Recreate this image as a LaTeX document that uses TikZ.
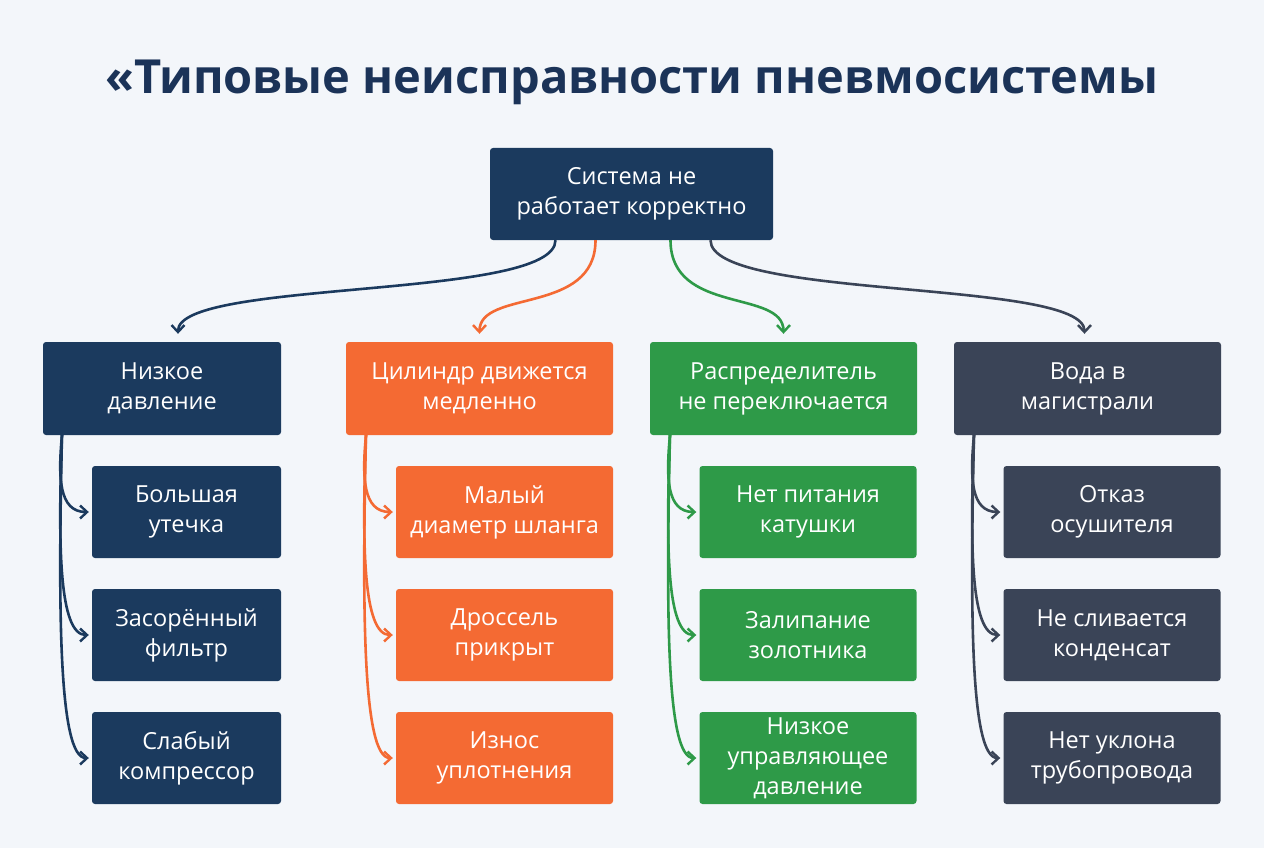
\documentclass[tikz,border=0pt]{standalone}
\usepackage{fontspec}
\setmainfont{Open Sans}
\usetikzlibrary{arrows.meta}
\definecolor{bg}{HTML}{F3F6FA}
\definecolor{navy}{HTML}{1B3A5E}
\definecolor{orng}{HTML}{F46A33}
\definecolor{grn}{HTML}{2E9A48}
\definecolor{slate}{HTML}{3A4457}
\definecolor{ttl}{HTML}{1B3358}
\begin{document}
\begin{tikzpicture}[x=1pt,y=-1pt,
 box/.style={rounded corners=3pt,text=white,align=center,font=\fontsize{23.5}{30}\selectfont,inner sep=0pt},
 ar/.style={line width=2.6pt,-{Straight Barb[length=7pt,width=13pt,line width=2.4pt]}}]
\fill[bg] (0,0) rectangle (1264,848);
\useasboundingbox (0,0) rectangle (1264,848);
\node[text=ttl,font=\fontsize{47}{52}\selectfont\bfseries] (title) at (632,82) {«Типовые неисправности пневмосистемы};
\node[box,fill=navy,minimum width=283pt,minimum height=92pt] (root) at (631.5,194) {Система не\\работает корректно};
\foreach \i/\x/\c/\w/\t in {1/162/navy/238/{Низкое\\давление},2/479.5/orng/267/{Цилиндр движется\\медленно},3/783.5/grn/267/{Распределитель\\не переключается},4/1087.5/slate/267/{Вода в\\магистрали}}{
  \node[box,fill=\c,minimum width=\w pt,minimum height=93pt] (p\i) at (\x,388.5) {\t};
}
\foreach \i/\x/\c/\w in {1/186.5/navy/189,2/504.5/orng/217,3/808/grn/217,4/1112/slate/217}{
  \foreach \j/\y in {1/512,2/635,3/758}{
    \node[box,fill=\c,minimum width=\w pt,minimum height=92pt] (c\i\j) at (\x,\y) {};
  }
}
\node[box] at (c11) {Большая\\утечка};
\node[box] at (c12) {Засорённый\\фильтр};
\node[box] at (c13) {Слабый\\компрессор};
\node[box] at (c21) {Малый\\диаметр шланга};
\node[box] at (c22) {Дроссель\\прикрыт};
\node[box] at (c23) {Износ\\уплотнения};
\node[box] at (c31) {Нет питания\\катушки};
\node[box] at (c32) {Залипание\\золотника};
\node[box] at (c33) {Низкое\\управляющее\\давление};
\node[box] at (c41) {Отказ\\осушителя};
\node[box] at (c42) {Не сливается\\конденсат};
\node[box] at (c43) {Нет уклона\\трубопровода};
% root connectors
\draw[ar,navy] ([xshift=-76pt]root.south) .. controls +(0,60) and +(0,-55) .. ([xshift=16pt,yshift=8pt]p1.north);
\draw[ar,orng] ([xshift=-36pt]root.south) .. controls +(0,75) and +(0,-45) .. ([yshift=8pt]p2.north);
\draw[ar,grn] ([xshift=39pt]root.south) .. controls +(0,75) and +(0,-45) .. ([yshift=8pt]p3.north);
\draw[ar,slate] ([xshift=79pt]root.south) .. controls +(0,60) and +(0,-55) .. ([xshift=-3pt,yshift=8pt]p4.north);
% child connectors
\foreach \i/\px/\c in {1/62/navy,2/366/orng,3/670/grn,4/974/slate}{
  \coordinate (s\i) at (\px,435);
  \foreach \j/\y in {1/512,2/635,3/758}{
    \pgfmathsetmacro{\d}{(\y-435)*0.55}
    \draw[ar,\c] (s\i) .. controls +(-4,\d) and +(-30,0) .. ([xshift=-3pt]c\i\j.west);
  }
}
\end{tikzpicture}
\end{document}
